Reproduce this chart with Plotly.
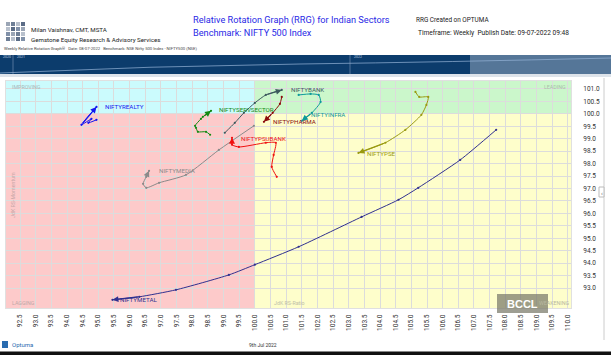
import plotly.graph_objects as go

# ---------------- data (JdK RS-Ratio, JdK RS-Momentum), oldest -> latest ----------------
realty_x = [94.94, 94.68, 94.78, 94.46, 94.94]
realty_y = [99.76, 99.64, 99.80, 99.56, 100.28]

servsector_x = [98.57, 98.44, 98.18, 98.12, 98.09, 98.28, 98.34, 98.60]
servsector_y = [99.16, 99.28, 99.28, 99.44, 99.52, 99.80, 99.88, 100.12]

bank_x = [99.04, 99.36, 99.65, 100.00, 100.35, 100.86]
bank_y = [99.24, 99.64, 100.04, 100.44, 100.76, 100.96]

pharma_x = [100.86, 100.80, 100.57, 100.29]
pharma_y = [100.68, 100.40, 100.04, 99.68]

infra_x = [101.40, 101.78, 102.04, 102.10, 101.82, 101.50]
infra_y = [100.76, 100.80, 100.76, 100.48, 100.04, 99.72]

psubank_x = [100.70, 100.54, 100.60, 100.67, 100.35, 99.49, 99.27, 99.27]
psubank_y = [97.47, 97.87, 98.35, 98.84, 98.84, 98.67, 98.76, 99.04]

media_x = [99.97, 98.85, 97.80, 96.94, 96.53, 96.43, 96.53, 96.62]
media_y = [99.52, 98.55, 97.55, 97.23, 97.03, 97.19, 97.47, 97.71]

pse_x = [105.13, 105.25, 105.54, 105.48, 105.32, 104.81, 104.17, 103.31]
pse_y = [100.88, 100.68, 100.68, 100.36, 99.96, 99.36, 98.84, 98.43]

metal_x = [107.71, 106.56, 105.22, 104.59, 103.41, 101.40, 100.00, 99.17, 97.48, 96.31, 95.45]
metal_y = [99.36, 98.15, 97.03, 96.55, 95.86, 94.66, 93.94, 93.53, 92.93, 92.65, 92.53]

sector_names = ["NIFTYREALTY", "NIFTYSERVSECTOR", "NIFTYBANK", "NIFTYPHARMA", "NIFTYINFRA",
                "NIFTYPSUBANK", "NIFTYMEDIA", "NIFTYPSE", "NIFTYMETAL"]
series_x = [realty_x, servsector_x, bank_x, pharma_x, infra_x, psubank_x, media_x, pse_x, metal_x]
series_y = [realty_y, servsector_y, bank_y, pharma_y, infra_y, psubank_y, media_y, pse_y, metal_y]

x_ticks = [92.5 + 0.5 * i for i in range(36)]
y_ticks = [93.0 + 0.5 * i for i in range(17)]

# ---------------- styles ----------------
sector_colors = ["#1515f0", "#138a13", "#3d5a5e", "#8b0a0a", "#0d9a9a",
                 "#f01010", "#8a8a8a", "#9a9a10", "#30308f"]
label_shift = [(7, 0), (6, 1), (7, 0), (7, 0), (7, 6), (7, -1), (8, 0), (7, -1), (6, 0)]

W, H = 611, 355
ML, MR, MT, MB = 6, 40, 81, 47
XR = [92.05, 110.1]
YR = [92.2, 101.32]
PW, PH = W - ML - MR, H - MT - MB


def PX(p):
    return (p - ML) / PW


def PY(p):
    return (H - MB - p) / PH


fig = go.Figure()

for name, col, xs, ys, sh in zip(sector_names, sector_colors, series_x, series_y, label_shift):
    fig.add_trace(go.Scatter(x=xs, y=ys, mode="lines+markers", name=name,
                             line=dict(color=col, width=1.0, shape="spline", smoothing=0.6),
                             marker=dict(size=2.2, color=col), showlegend=False,
                             hoverinfo="skip"))
    fig.add_annotation(x=xs[-1], y=ys[-1], ax=xs[-2], ay=ys[-2], xref="x", yref="y",
                       axref="x", ayref="y", text="", showarrow=True, arrowhead=2,
                       arrowsize=1.0, arrowwidth=1.2, arrowcolor=col, standoff=0)
    fig.add_annotation(x=xs[-1], y=ys[-1], xref="x", yref="y", text=name, showarrow=False,
                       xanchor="left", xshift=sh[0], yshift=sh[1],
                       font=dict(family="Roboto", size=6.2, color=col))

shapes = []
quad = [(XR[0], 100, 100, YR[1], "#cbfbfd"), (100, XR[1], 100, YR[1], "#cbf7cb"),
        (XR[0], 100, YR[0], 100, "#fdcaca"), (100, XR[1], YR[0], 100, "#fefecb")]
for x0, x1, y0, y1, c in quad:
    shapes.append(dict(type="rect", xref="x", yref="y", x0=x0, x1=x1, y0=y0, y1=y1,
                       fillcolor=c, line=dict(width=0), layer="below"))
# top dark band
shapes.append(dict(type="rect", xref="paper", yref="paper", x0=PX(0), x1=PX(611),
                   y0=PY(74), y1=PY(55), fillcolor="#0c3c6c", line=dict(width=0)))
shapes.append(dict(type="rect", xref="paper", yref="paper", x0=PX(470), x1=PX(611),
                   y0=PY(74), y1=PY(55), fillcolor="rgba(255,255,255,0.3)", line=dict(width=0)))
shapes.append(dict(type="path", xref="paper", yref="paper",
                   path=f"M {PX(0)},{PY(73)} Q {PX(150)},{PY(66)} {PX(300)},{PY(64)} T {PX(611)},{PY(58)}",
                   line=dict(color="rgba(150,180,215,0.7)", width=1)))
for xv in [13, 350]:
    shapes.append(dict(type="line", xref="paper", yref="paper", x0=PX(xv), x1=PX(xv),
                       y0=PY(74), y1=PY(55), line=dict(color="rgba(150,170,200,0.5)", width=1)))
shapes.append(dict(type="rect", xref="paper", yref="paper", x0=PX(0), x1=PX(611),
                   y0=PY(77), y1=PY(74), fillcolor="#dde3ea", line=dict(width=0)))
# bottom black bar
shapes.append(dict(type="rect", xref="paper", yref="paper", x0=PX(0), x1=PX(611),
                   y0=PY(356), y1=PY(351.5), fillcolor="#111111", line=dict(width=0)))
# right border line
shapes.append(dict(type="line", xref="paper", yref="paper", x0=PX(604), x1=PX(604),
                   y0=PY(340), y1=PY(78), line=dict(color="#cccccc", width=1)))
shapes.append(dict(type="rect", xref="paper", yref="paper", x0=PX(599), x1=PX(604),
                   y0=PY(197), y1=PY(187), fillcolor="white", line=dict(color="#bbbbbb", width=1)))
# BCCL watermark box
shapes.append(dict(type="rect", xref="paper", yref="paper", x0=PX(497), x1=PX(548),
                   y0=PY(313), y1=PY(294), fillcolor="rgba(125,125,110,0.75)", line=dict(width=0)))
# logo grid
logo_cols = ["#9aa5b5", "#6f7f96", "#b8c0cc", "#5b6c86", "#8090a8"]
for r in range(4):
    for c in range(4):
        x0 = 6 + c * 5
        y0 = 22 + r * 5
        shapes.append(dict(type="rect", xref="paper", yref="paper", x0=PX(x0), x1=PX(x0 + 4),
                           y0=PY(y0 + 4), y1=PY(y0), fillcolor=logo_cols[(r * 2 + c) % 5],
                           line=dict(width=0)))
shapes.append(dict(type="rect", xref="paper", yref="paper", x0=PX(2), x1=PX(8),
                   y0=PY(348), y1=PY(341), fillcolor="#2a6cb0", line=dict(width=0)))

fig.update_layout(shapes=shapes)


def txt(x, y, s, size, color="#222222", anchor="left", family="Roboto", angle=0, bold=False):
    if bold:
        s = f"<b>{s}</b>"
    fig.add_annotation(x=PX(x), y=PY(y), xref="paper", yref="paper", text=s, showarrow=False,
                       xanchor=anchor, yanchor="middle", textangle=angle,
                       font=dict(family=family, size=size, color=color))


txt(29, 30, "Milan Vaishnav, CMT, MSTA", 6.2)
txt(29, 39.5, "Gemstone Equity Research &amp; Advisory Services", 6.2)
txt(191, 19.5, "Relative Rotation Graph (RRG) for Indian Sectors", 9.2, color="#2a2ae6")
txt(191, 32.5, "Benchmark: NIFTY 500 Index", 9.2, color="#2a2ae6")
txt(414, 19.5, "RRG Created on OPTUMA", 6.4, color="#222222")
txt(416, 32.5, "Timeframe: Weekly  Publish Date: 09-07-2022 09:48", 6.6)
txt(2, 48.5, "Weekly Relative Rotation Graph®   Date: 08-07-2022   Benchmark: NSE Nifty 500 Index - NIFTY500 (NSE)",
    4.2, color="#444444")
txt(1, 57.5, "2020", 3.5, color="#c0d0e0")
txt(15, 57.5, "2021", 3.5, color="#c0d0e0")
txt(352, 57.5, "2022", 3.5, color="#c0d0e0")
txt(10, 87, "IMPROVING", 5.3, color="#a8b8b8")
txt(568, 87, "LEADING", 5.3, color="#a8c0a8", anchor="right")
txt(10, 303, "LAGGING", 5.3, color="#c0a8a8")
txt(571, 303, "WEAKENING", 5.3, color="#b8b8a0", anchor="right")
txt(272, 303, "JdK RS-Ratio", 5.3, color="#c0c0a8")
txt(13, 195, "JdK RS-Momentum", 5.3, color="#c8a8a8", anchor="center", angle=-90)
txt(522.5, 303.5, "BCCL", 11, color="white", anchor="center", family="Liberation Sans", bold=True)
txt(10, 344.5, "Optuma", 6, color="#2a6cb0")
txt(247, 345, "9th Jul 2022", 5, color="#333333")
txt(601.5, 192, "‹", 6, color="#555555", anchor="center")

fig.update_xaxes(range=XR, tick0=92.5, dtick=0.5, tickformat=".1f", tickangle=-90,
                 showgrid=True, gridcolor="#dcdcdc", gridwidth=1, zeroline=False,
                 tickfont=dict(family="Roboto", size=6.5, color="#333333"),
                 ticks="", ticklabelstandoff=3, showline=True, linecolor="#e0e0e0", mirror=True,
                 fixedrange=True)
fig.update_yaxes(range=YR, side="right", tickvals=y_ticks, tickformat=".1f",
                 showgrid=True, gridcolor="#dcdcdc", gridwidth=1, zeroline=False,
                 tickfont=dict(family="Roboto", size=6.5, color="#333333"),
                 ticks="", ticklabelstandoff=10, showline=True, linecolor="#e0e0e0", mirror=True,
                 fixedrange=True)
fig.update_layout(width=W, height=H, margin=dict(l=ML, r=MR, t=MT, b=MB, autoexpand=False),
                  paper_bgcolor="white", plot_bgcolor="white", showlegend=False)

fig.write_html("out.html", config={"displayModeBar": False},
               post_script="document.body.style.margin='0';document.body.style.overflow='hidden';")
